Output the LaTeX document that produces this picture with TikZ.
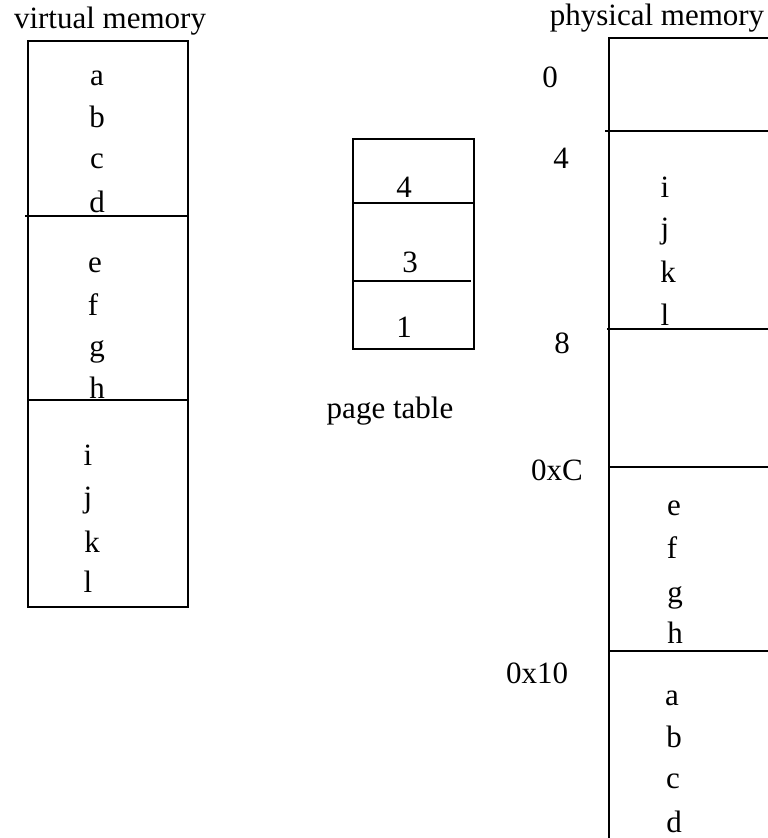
\documentclass[tikz,border=0pt]{standalone}
\usepackage{fontspec}
\setmainfont{Liberation Serif}
\begin{document}
\begin{tikzpicture}[x=1pt,y=-1pt,
  txt/.style={inner sep=0pt,anchor=base,font=\fontsize{31}{36}\selectfont},
  ln/.style={line width=1.8pt}]
\useasboundingbox (0,0) rectangle (768,838);
% virtual memory
\node[txt] (vtitle) at (110,28) {virtual memory};
\draw[ln] (28,41) rectangle (188,607);
\draw[ln] (25,216) -- (188,216);
\draw[ln] (28,400) -- (188,400);
\node[txt] (va) at (97,85) {a};
\node[txt] (vb) at (97,127) {b};
\node[txt] (vc) at (97,168) {c};
\node[txt] (vd) at (97,212) {d};
\node[txt] (ve) at (95,272) {e};
\node[txt] (vf) at (93,315) {f};
\node[txt] (vg) at (97,356) {g};
\node[txt] (vh) at (97,398) {h};
\node[txt] (vi) at (88,465) {i};
\node[txt] (vj) at (88,507) {j};
\node[txt] (vk) at (92,552) {k};
\node[txt] (vl) at (88,592) {l};
% page table
\draw[ln] (353,139) rectangle (474,349);
\draw[ln] (353,203) -- (474,203);
\draw[ln] (353,281) -- (471,281);
\node[txt] (p4) at (404,197) {4};
\node[txt] (p3) at (410,272) {3};
\node[txt] (p1) at (404,337) {1};
\node[txt] (ptitle) at (390,418) {page table};
% physical memory
\node[txt] (ptitle2) at (657,25) {physical memory};
\draw[ln] (768,38) -- (609,38) -- (609,838);
\draw[ln] (605,131) -- (768,131);
\draw[ln] (607,329) -- (768,329);
\draw[ln] (608,467) -- (768,467);
\draw[ln] (609,651) -- (768,651);
\node[txt] (a0) at (550,87) {0};
\node[txt] (a4) at (561,168) {4};
\node[txt] (a8) at (562,353) {8};
\node[txt] (aC) at (557,480) {0xC};
\node[txt] (a10) at (537,683) {0x10};
\node[txt] (pi) at (665,197) {i};
\node[txt] (pj) at (665,238) {j};
\node[txt] (pk) at (668,282) {k};
\node[txt] (pl) at (665,325) {l};
\node[txt] (pe) at (674,515) {e};
\node[txt] (pf) at (672,558) {f};
\node[txt] (pg) at (675,602) {g};
\node[txt] (ph) at (675,643) {h};
\node[txt] (pa) at (672,705) {a};
\node[txt] (pb) at (674,747) {b};
\node[txt] (pc) at (673,788) {c};
\node[txt] (pd) at (674,832) {d};
\end{tikzpicture}
\end{document}
